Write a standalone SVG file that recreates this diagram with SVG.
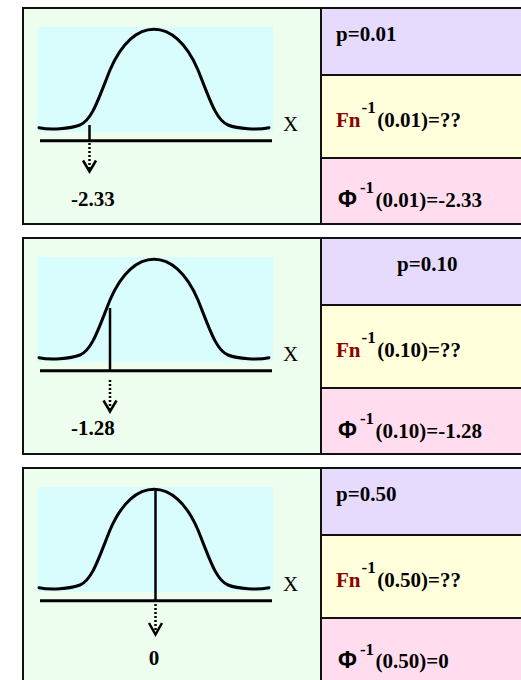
<svg xmlns="http://www.w3.org/2000/svg" width="521" height="680" viewBox="0 0 521 680">
<style>
.frame{fill:none;stroke:#111;stroke-width:2}
.left{fill:#EEFEEE}
.plot{fill:#D9FCFC}
.pur{fill:#E6DAFD}
.yel{fill:#FFFFDC}
.pnk{fill:#FFDDEE}
.div{stroke:#111;stroke-width:2;fill:none}
.curve{fill:none;stroke:#000;stroke-width:3;stroke-linecap:round}
.axis{stroke:#000;stroke-width:3;fill:none}
.tick{stroke:#000;stroke-width:2.5;fill:none}
.dots{stroke:#000;stroke-width:2.5;stroke-dasharray:2 2;fill:none}
.head{stroke:#000;stroke-width:2.5;fill:none;stroke-linejoin:miter}
.t{font-family:"Liberation Serif","Times New Roman",serif;font-size:21px;font-weight:bold;fill:#000}
.x{font-family:"Liberation Serif","Times New Roman",serif;font-size:21px;fill:#000}
.sup{font-size:17px}
.fn{fill:#8B0000}
.phi{font-family:"Liberation Sans",Arial,sans-serif;font-size:23px;font-weight:bold}
</style>
<defs>
<path id="bell" d="M39,127.7 C50,130 70,129 80,125 C92,120 98,100 110,70 C122,42 138,29.3 154,29.3 C170,29.3 186,42 198,70 C210,100 216,120 228,125 C238,129 258,130 269,127.7"/>
</defs>

<g id="panel1">
<rect class="left" x="23" y="8" width="298" height="216"/>
<rect class="plot" x="37" y="27" width="236" height="105"/>
<rect class="pur" x="321" y="8" width="210" height="67"/>
<rect class="yel" x="321" y="75" width="210" height="83"/>
<rect class="pnk" x="321" y="158" width="210" height="66"/>
<rect class="frame" x="23" y="8" width="510" height="216"/>
<path class="div" d="M321,8 V224 M321,75 H521 M321,158 H521"/>
<use href="#bell" class="curve"/>
<path class="axis" d="M40,140.7 H272"/>
<path class="tick" d="M89.5,125 V140.7"/>
<text class="x" x="283" y="131">X</text>
<text class="t" x="71" y="205.5">-2.33</text>
<text class="t" x="336" y="40.5">p=0.01</text>
<text class="t" x="336" y="126.7"><tspan class="fn">Fn</tspan><tspan class="sup" dx="1" dy="-13.4">-1</tspan><tspan dx="1.5" dy="13.4">(0.01)=??</tspan></text>
<text class="t" x="338" y="206.7"><tspan class="phi">Φ</tspan><tspan class="sup" dx="3" dy="-13.4">-1</tspan><tspan dx="1.5" dy="13.4">(0.01)=-2.33</tspan></text>
</g>

<g id="panel2" transform="translate(0,230)">
<rect class="left" x="23" y="8" width="298" height="216"/>
<rect class="plot" x="37" y="27" width="236" height="105"/>
<rect class="pur" x="321" y="8" width="210" height="67"/>
<rect class="yel" x="321" y="75" width="210" height="83"/>
<rect class="pnk" x="321" y="158" width="210" height="66"/>
<rect class="frame" x="23" y="8" width="510" height="216"/>
<path class="div" d="M321,8 V224 M321,75 H521 M321,158 H521"/>
<use href="#bell" class="curve"/>
<path class="axis" d="M40,140.7 H272"/>
<path class="tick" d="M110,78 V140.7"/>
<text class="x" x="283" y="131">X</text>
<text class="t" x="71" y="205">-1.28</text>
<text class="t" x="397" y="41">p=0.10</text>
<text class="t" x="336" y="126.7"><tspan class="fn">Fn</tspan><tspan class="sup" dx="1" dy="-13.4">-1</tspan><tspan dx="1.5" dy="13.4">(0.10)=??</tspan></text>
<text class="t" x="338" y="207.5"><tspan class="phi">Φ</tspan><tspan class="sup" dx="3" dy="-13.4">-1</tspan><tspan dx="1.5" dy="13.4">(0.10)=-1.28</tspan></text>
</g>

<g id="panel3" transform="translate(0,460)">
<rect class="left" x="23" y="8" width="298" height="216"/>
<rect class="plot" x="37" y="27" width="236" height="105"/>
<rect class="pur" x="321" y="8" width="210" height="67"/>
<rect class="yel" x="321" y="75" width="210" height="83"/>
<rect class="pnk" x="321" y="158" width="210" height="66"/>
<rect class="frame" x="23" y="8" width="510" height="216"/>
<path class="div" d="M321,8 V224 M321,75 H521 M321,158 H521"/>
<use href="#bell" class="curve"/>
<path class="axis" d="M40,140.7 H272"/>
<path class="tick" d="M155.5,29.5 V140.7"/>
<text class="x" x="283" y="131">X</text>
<text class="t" x="154" y="205" text-anchor="middle">0</text>
<text class="t" x="336" y="40.7">p=0.50</text>
<text class="t" x="336" y="126.7"><tspan class="fn">Fn</tspan><tspan class="sup" dx="1" dy="-13.4">-1</tspan><tspan dx="1.5" dy="13.4">(0.50)=??</tspan></text>
<text class="t" x="338" y="208"><tspan class="phi">Φ</tspan><tspan class="sup" dx="3" dy="-13.4">-1</tspan><tspan dx="1.5" dy="13.4">(0.50)=0</tspan></text>
</g>

<g id="connectors">
<path class="dots" d="M89.5,143 V169"/>
<path class="head" d="M83,160.5 L89.5,171.5 L96,160.5"/>
<path class="dots" d="M110,380 V409"/>
<path class="head" d="M103.5,400.5 L110,411.5 L116.5,400.5"/>
<path class="dots" d="M155.5,604 V632"/>
<path class="head" d="M149,623 L155.5,634.5 L162,623"/>
</g>
</svg>
